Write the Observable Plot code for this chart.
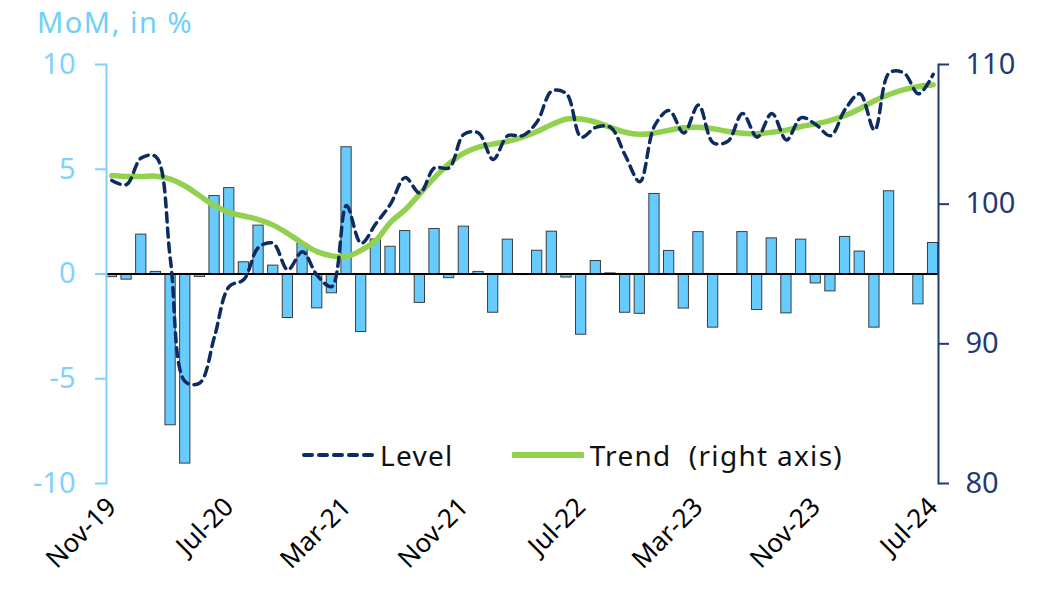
<!DOCTYPE html>
<html>
<head>
<meta charset="utf-8">
<script src="https://cdn.jsdelivr.net/npm/d3@7"></script>
<script src="https://cdn.jsdelivr.net/npm/@observablehq/plot@0.6"></script>
<style>
  body { margin: 0; background: white; font-family: "Noto Sans", sans-serif; }
  #wrap { position: relative; width: 1044px; height: 592px; overflow: hidden; }
  #title { position: absolute; left: 37px; top: 2px; font-size: 29px; color: #6fcffa; letter-spacing: 1.5px; }
  .chart { position: absolute; left: 0; top: 40px; }
  #legend { position: absolute; left: 302px; top: 436px; font-size: 28px; letter-spacing: 1.3px; color: #111; display: flex; align-items: center; }
  #legend svg { display: block; }
</style>
</head>
<body>
<div id="wrap">
  <div id="title">MoM, in %</div>
  <div id="c1" class="chart"></div>
  <div id="c2" class="chart"></div>
  <div id="legend"></div>
</div>
<script>
const months = [
  "Nov-19","Dec-19",
  "Jan-20","Feb-20","Mar-20","Apr-20","May-20","Jun-20","Jul-20","Aug-20","Sep-20","Oct-20","Nov-20","Dec-20",
  "Jan-21","Feb-21","Mar-21","Apr-21","May-21","Jun-21","Jul-21","Aug-21","Sep-21","Oct-21","Nov-21","Dec-21",
  "Jan-22","Feb-22","Mar-22","Apr-22","May-22","Jun-22","Jul-22","Aug-22","Sep-22","Oct-22","Nov-22","Dec-22",
  "Jan-23","Feb-23","Mar-23","Apr-23","May-23","Jun-23","Jul-23","Aug-23","Sep-23","Oct-23","Nov-23","Dec-23",
  "Jan-24","Feb-24","Mar-24","Apr-24","May-24","Jun-24","Jul-24"
];
const tickLabels = ["Nov-19","Jul-20","Mar-21","Nov-21","Jul-22","Mar-23","Nov-23","Jul-24"];

// MoM change, in % (left axis)
const mom = [
  -0.15,-0.27,
  1.88,0.10,-7.22,-9.05,-0.14,3.72,4.10,0.56,2.31,0.40,-2.10,1.43,
  -1.64,-0.92,6.05,-2.77,1.65,1.30,2.05,-1.38,2.15,-0.20,2.26,0.10,
  -1.85,1.64,-0.05,1.11,2.02,-0.17,-2.90,0.62,0.03,-1.85,-1.90,3.82,
  1.10,-1.65,2.00,-2.56,0.00,2.00,-1.72,1.70,-1.88,1.64,-0.45,-0.83,
  1.77,1.07,-2.56,3.95,-0.02,-1.45,1.48
];
// Level index (right axis)
const level = [
  101.7,101.4,
  103.3,103.4,96.0,87.3,87.2,90.5,94.1,94.6,96.9,97.2,95.3,96.6,
  94.9,94.1,99.9,97.2,98.6,100.0,101.9,100.8,102.6,102.6,105.0,105.1,
  103.2,104.9,104.9,105.9,108.1,107.9,104.8,105.5,105.5,103.5,101.6,105.6,
  106.7,105.1,107.1,104.4,104.5,106.5,104.8,106.5,104.6,106.2,105.7,104.9,
  106.8,107.9,105.3,109.4,109.4,107.9,109.3
];
// Trend index (right axis)
const trend = [
  102.05,101.98,
  101.98,102.0,101.8,101.3,100.6,99.9,99.4,99.15,98.9,98.5,97.9,97.2,
  96.6,96.3,96.25,96.7,97.4,98.7,99.6,100.74,101.9,102.9,103.65,104.08,
  104.3,104.5,104.8,105.2,105.7,106.1,106.1,105.87,105.5,105.15,105.0,105.1,
  105.3,105.47,105.5,105.4,105.2,105.08,105.04,105.15,105.3,105.56,105.75,106.0,
  106.35,106.83,107.4,107.85,108.2,108.43,108.55
];

const rows = months.map((m, i) => ({month: m, mom: mom[i], level: level[i], trend: trend[i]}));

const W = 1044, H = 552;
const M = {marginLeft: 106, marginRight: 106, marginTop: 24, marginBottom: 109};
const leftColor = "#7fd3fb";
const rightColor = "#1f3b70";
const font = "Noto Sans";

const chart1 = Plot.plot({
  width: W, height: H, ...M,
  style: {background: "transparent", fontFamily: font, overflow: "visible"},
  x: {type: "band", domain: months, paddingInner: 0.3, paddingOuter: 0.02, axis: null},
  y: {domain: [-10, 10], axis: null},
  marks: [
    Plot.barY(rows, {x: "month", y: "mom", fill: "#66ccff", stroke: "#3d3d3d", strokeWidth: 1}),
    Plot.ruleY([0], {stroke: "#000", strokeWidth: 2}),
    Plot.frame({anchor: "left", stroke: leftColor, strokeWidth: 2}),
    Plot.axisY({anchor: "left", label: null, ticks: [-10, -5, 0, 5, 10], tickSize: 11, tickPadding: 20,
      tickFormat: d => String(d), color: leftColor, fontSize: 29, strokeWidth: 2}),
    Plot.axisX({anchor: "bottom", label: null, ticks: tickLabels, tickSize: 0, tickPadding: 19, tickRotate: -45,
      color: "#000", fontSize: 26})
  ]
});

const chart2 = Plot.plot({
  width: W, height: H, ...M,
  style: {background: "transparent", fontFamily: font, overflow: "visible"},
  x: {type: "point", domain: months, padding: 0.36, axis: null},
  y: {domain: [80, 110], axis: null},
  marks: [
    Plot.lineY(rows, {x: "month", y: "trend", stroke: "#92d050", strokeWidth: 5.5, curve: "catmull-rom"}),
    Plot.lineY(rows, {x: "month", y: "level", stroke: "#0d2b60", strokeWidth: 3.5, strokeDasharray: "9,6", curve: "catmull-rom"}),
    Plot.frame({anchor: "right", stroke: rightColor, strokeWidth: 2}),
    Plot.axisY({anchor: "right", label: null, ticks: [80, 90, 100, 110], tickSize: 10, tickPadding: 17,
      color: rightColor, fontSize: 29, strokeWidth: 2})
  ]
});

document.getElementById("c1").appendChild(chart1);
document.getElementById("c2").appendChild(chart2);

// legend
const legend = document.getElementById("legend");
function sample(stroke, width, dash) {
  const ns = "http://www.w3.org/2000/svg";
  const s = document.createElementNS(ns, "svg");
  s.setAttribute("width", 72); s.setAttribute("height", 20);
  const l = document.createElementNS(ns, "line");
  l.setAttribute("x1", 2); l.setAttribute("x2", 70); l.setAttribute("y1", 10); l.setAttribute("y2", 10);
  l.setAttribute("stroke", stroke); l.setAttribute("stroke-width", width);
  l.setAttribute("stroke-linecap", "round");
  if (dash) l.setAttribute("stroke-dasharray", dash);
  s.appendChild(l);
  return s;
}
const items = [
  {label: "Level", stroke: "#0d2b60", width: 4, dash: "8,7", gap: 138},
  {label: "Trend  (right axis)", stroke: "#92d050", width: 6, dash: null, gap: 0}
];
items.forEach(it => {
  legend.appendChild(sample(it.stroke, it.width, it.dash));
  const t = document.createElement("span");
  t.textContent = it.label;
  t.style.whiteSpace = "pre";
  t.style.marginLeft = "6px";
  t.style.marginRight = (it.gap ? it.gap - 80 : 0) + "px";
  legend.appendChild(t);
});
</script>
</body>
</html>
